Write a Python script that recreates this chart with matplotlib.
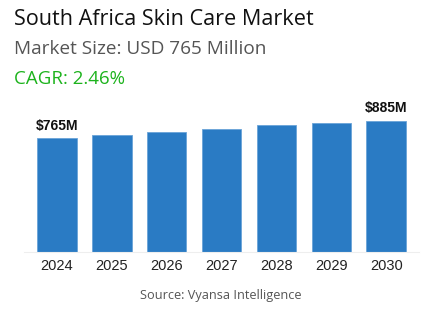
import matplotlib
matplotlib.use("Agg")
import matplotlib.pyplot as plt

years = ["2024", "2025", "2026", "2027", "2028", "2029", "2030"]
values = [765, 789, 807, 830, 857, 866, 885]
labels = {0: "$765M", 6: "$885M"}

W, H = 443, 332
fig = plt.figure(figsize=(W / 100, H / 100), dpi=100)
fig.patch.set_facecolor("white")

ax = fig.add_axes([24.1 / W, (H - 252) / H, 395 / W, 152 / H])
x = list(range(len(years)))
ax.bar(x, values, width=0.72, color="#2a7bc4", edgecolor="#6aa3d8", linewidth=0.6, zorder=2)
ax.set_xlim(-0.6, 6.6)
ax.set_ylim(0, 1023)
ax.set_xticks(x)
ax.set_xticklabels(years, fontsize=10.5, color="#222222", family="Liberation Sans")
ax.tick_params(axis="x", length=0, pad=5)
ax.set_yticks([])
for s in ["top", "right", "left"]:
    ax.spines[s].set_visible(False)
ax.spines["bottom"].set_color("#eeeeee")
ax.spines["bottom"].set_linewidth(0.8)

for i, t in labels.items():
    ax.annotate(t, (x[i], values[i]), xytext=(0, 4), textcoords="offset points",
                ha="center", va="bottom", fontsize=10, fontweight="bold",
                color="#111111", family="Liberation Sans")

fig.text(14 / W, 1 - 25 / H, "South Africa Skin Care Market", fontsize=15.6, color="#111111",
         family="Open Sans", va="baseline", ha="left")
fig.text(14 / W, 1 - 54.5 / H, "Market Size: USD 765 Million", fontsize=13.7, color="#555555",
         family="Open Sans", va="baseline", ha="left")
fig.text(14 / W, 1 - 83.5 / H, "CAGR: 2.46%", fontsize=13.5, color="#1db31d",
         family="Open Sans", va="baseline", ha="left")
fig.text(221 / W, 1 - 296 / H, "Source: Vyansa Intelligence", fontsize=9.2, color="#555555",
         family="Open Sans", va="center", ha="center")

fig.savefig("out.png", dpi=100, facecolor="white")
